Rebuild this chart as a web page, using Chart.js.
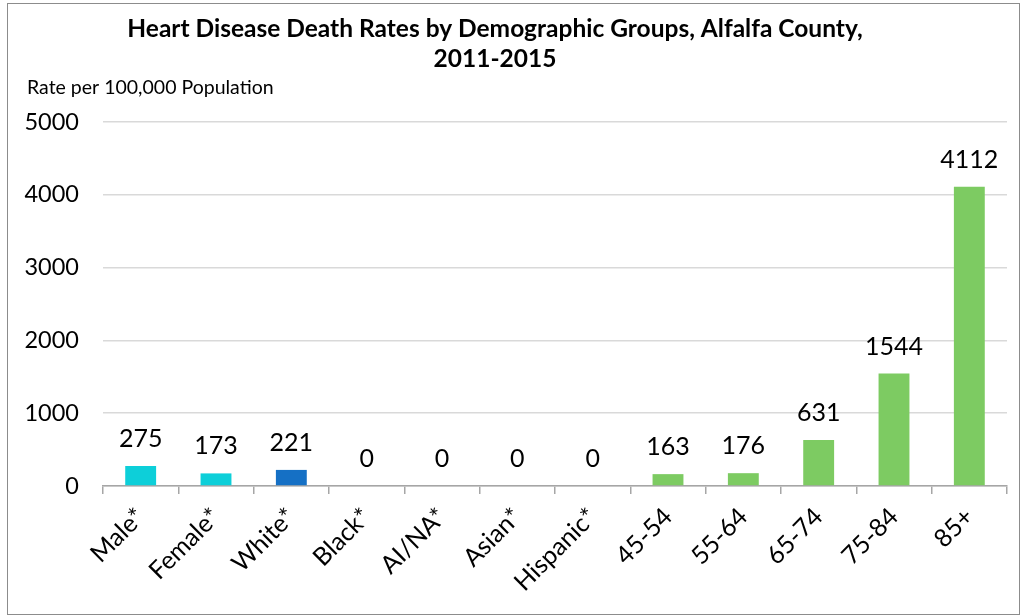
<!DOCTYPE html>
<html>
<head>
<meta charset="utf-8">
<script src="https://cdn.jsdelivr.net/npm/chart.js@4.4.1/dist/chart.umd.min.js"></script>
<style>
html,body{margin:0;padding:0;background:#fff;}
#wrap{position:relative;width:1022px;height:616px;}
#frame{position:absolute;left:7px;top:3px;width:1011px;height:610px;border:1.5px solid #8c8c8c;pointer-events:none;}
canvas{position:absolute;left:0;top:0;}
</style>
</head>
<body>
<div id="wrap"><canvas id="c" width="1022" height="616"></canvas><div id="frame"></div></div>
<script>
const categories = ["Male*","Female*","White*","Black*","AI/NA*","Asian*","Hispanic*","45-54","55-64","65-74","75-84","85+"];
const rates = [275,173,221,0,0,0,0,163,176,631,1544,4112];
const barColors = ["#0dcfd9","#0dcfd9","#1570c5","#1570c5","#1570c5","#1570c5","#1570c5","#7dcb62","#7dcb62","#7dcb62","#7dcb62","#7dcb62"];
const yTicks = [0,1000,2000,3000,4000,5000];
const titleLines = ["Heart Disease Death Rates by Demographic Groups, Alfalfa County,","2011-2015"];
const yAxisTitle = "Rate per 100,000 Population";

const FONT = "Lato";

const decor = {
  id:'decor',
  afterDraw(chart){
    const ctx = chart.ctx;
    ctx.save();
    ctx.fillStyle = '#000';
    ctx.textAlign = 'center';
    ctx.textBaseline = 'middle';
    ctx.font = `bold 24.5px ${FONT}`;
    ctx.fillText(titleLines[0], 495, 29);
    ctx.fillText(titleLines[1], 495, 59);
    ctx.font = `19.5px ${FONT}`;
    ctx.textAlign = 'left';
    ctx.fillText(yAxisTitle, 27, 88);
    // data labels
    ctx.font = `25px ${FONT}`;
    ctx.textAlign = 'center';
    const meta = chart.getDatasetMeta(0);
    meta.data.forEach((bar,i)=>{
      ctx.fillText(String(rates[i]), bar.x, bar.y - 27);
    });
    ctx.restore();
  }
};

new Chart(document.getElementById('c'), {
  type:'bar',
  data:{
    labels:categories,
    datasets:[{data:rates, backgroundColor:barColors, barPercentage:0.41, categoryPercentage:1.0}]
  },
  options:{
    responsive:false,
    animation:false,
    devicePixelRatio:1,
    layout:{padding:{top:122,right:15,left:0,bottom:0}},
    plugins:{legend:{display:false},tooltip:{enabled:false},title:{display:false}},
    scales:{
      x:{
        grid:{display:true,offset:true,drawOnChartArea:false,drawTicks:true,tickLength:8,color:'#a6a6a6',lineWidth:1.5},
        border:{display:true,color:'#a6a6a6',width:1.5},
        ticks:{color:'#000',font:{family:FONT,size:25},maxRotation:45,minRotation:45,padding:8,autoSkip:false},
        afterFit(s){s.height = 130;}
      },
      y:{
        min:0,max:5000,
        afterBuildTicks(s){s.ticks = yTicks.map(v=>({value:v}));},
        grid:{color:'#d9d9d9',lineWidth:1.5,drawTicks:false},
        border:{display:false},
        ticks:{color:'#000',font:{family:FONT,size:23.5},padding:24,callback:(v)=>String(v)},
        afterFit(s){s.width = 103;}
      }
    }
  },
  plugins:[decor]
});
</script>
</body>
</html>
